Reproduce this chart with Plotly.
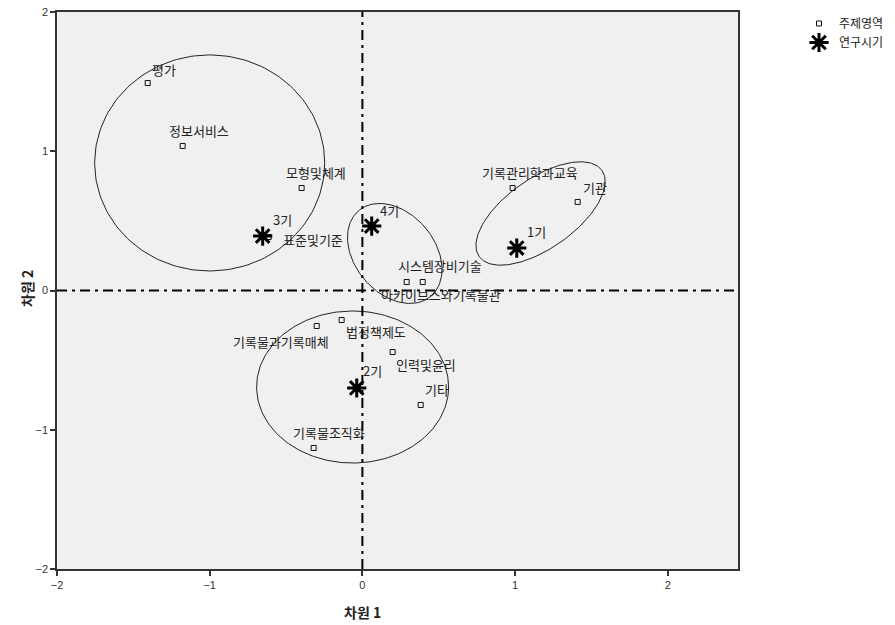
import numpy as np
import plotly.graph_objects as go

# ---- data ----
topic_names = ["평가", "정보서비스", "모형및체계", "표준및기준", "기록관리학과교육", "기관",
               "시스템장비기술", "아카이브스와기록물관", "기록물과기록매체", "법정책제도",
               "인력및윤리", "기타", "기록물조직화"]
topic_x = [-1.406, -1.177, -0.398, -0.614, 0.984, 1.410, 0.395, 0.290, -0.299, -0.136, 0.198, 0.382, -0.319]
topic_y = [1.490, 1.038, 0.736, 0.384, 0.736, 0.636, 0.061, 0.061, -0.255, -0.212, -0.442, -0.822, -1.131]

period_names = ["1기", "2기", "3기", "4기"]
period_x = [1.011, -0.037, -0.653, 0.061]
period_y = [0.305, -0.700, 0.391, 0.463]

x_ticks = [-2, -1, 0, 1, 2]
y_ticks = [-2, -1, 0, 1, 2]

# ---- layout / style ----
W, H = 895, 625
ML, MR, MT, MB = 57, 157, 12, 56
XR = [-2, 2.46]
YR = [-2, 2]
pxx = (W - ML - MR) / (XR[1] - XR[0])
pxy = (H - MT - MB) / (YR[1] - YR[0])

# label offsets in screen pixels (dx right, dy up)
topic_off = [(16, 14), (16, 15), (14, 16), (44, -2), (17, 16), (17, 14),
             (17, 17), (34, -12), (-36, -15), (34, -11), (33, -12), (16, 15), (15, 15)]
period_off = [(20, 17), (16, 17), (20, 17), (18, 16)]

# ellipse groups: centre (data), semi-axes (screen px), angle (deg)
ellipses = [((-1.0, 0.916), 115, 108, 0),
            ((0.212, 0.266), 56, 40, -50),
            ((1.167, 0.553), 75, 35, 35),
            ((-0.064, -0.693), 96, 76, 0)]

LABEL_FONT = dict(family="Noto Sans CJK KR", size=13, color="#222")

fig = go.Figure()

t = np.linspace(0, 2 * np.pi, 200)
for (cx, cy), a, b, ang in ellipses:
    th = np.deg2rad(ang)
    sx = a * np.cos(t) * np.cos(th) - b * np.sin(t) * np.sin(th)
    sy = a * np.cos(t) * np.sin(th) + b * np.sin(t) * np.cos(th)
    fig.add_trace(go.Scatter(x=cx + sx / pxx, y=cy + sy / pxy, mode="lines",
                             line=dict(color="#222", width=1), showlegend=False,
                             hoverinfo="skip"))

fig.add_trace(go.Scatter(x=topic_x, y=topic_y, mode="markers", name="주제영역",
                         marker=dict(symbol="square-open", size=5, color="#111",
                                     line=dict(width=1, color="#111"))))
fig.add_trace(go.Scatter(x=period_x, y=period_y, mode="markers", name="연구시기",
                         marker=dict(symbol="asterisk-open", size=16, color="#000",
                                     line=dict(width=3, color="#000"))))
fig.add_trace(go.Scatter(x=period_x, y=period_y, mode="markers", showlegend=False,
                         marker=dict(symbol="circle", size=8, color="#000"),
                         hoverinfo="skip"))

annotations = []
for name, x, y, (dx, dy) in zip(topic_names, topic_x, topic_y, topic_off):
    annotations.append(dict(x=x, y=y, text=name, showarrow=False, xshift=dx, yshift=dy,
                            font=LABEL_FONT))
for name, x, y, (dx, dy) in zip(period_names, period_x, period_y, period_off):
    annotations.append(dict(x=x, y=y, text=name, showarrow=False, xshift=dx, yshift=dy,
                            font=LABEL_FONT))

annotations.append(dict(xref="paper", yref="paper", x=(362 - ML) / (W - ML - MR),
                        y=-(612 - (H - MB)) / (H - MT - MB), text="<b>차원 1</b>",
                        showarrow=False, yanchor="middle",
                        font=dict(family="Noto Sans CJK KR", size=14, color="#222")))
annotations.append(dict(xref="paper", yref="paper", x=(27 - ML) / (W - ML - MR),
                        y=((H - MB) - 289) / (H - MT - MB), text="<b>차원 2</b>",
                        showarrow=False, textangle=-90, xanchor="center", yanchor="middle",
                        font=dict(family="Noto Sans CJK KR", size=14, color="#222")))

dash = "10px,5px,3px,5px"
shapes = [dict(type="line", x0=0, x1=0, y0=YR[0], y1=YR[1], xref="x", yref="y",
               line=dict(color="#000", width=2, dash=dash), layer="above"),
          dict(type="line", x0=XR[0], x1=XR[1], y0=0, y1=0, xref="x", yref="y",
               line=dict(color="#000", width=2, dash=dash), layer="above")]

axis_common = dict(showgrid=False, zeroline=False, showline=True, mirror=True,
                   linecolor="#333", linewidth=1.5, ticks="outside", ticklen=5,
                   tickcolor="#333", tickwidth=1.5, automargin=False,
                   tickfont=dict(family="Liberation Sans", size=11, color="#333"))

fig.update_layout(
    width=W, height=H,
    margin=dict(l=ML, r=MR, t=MT, b=MB, autoexpand=False),
    paper_bgcolor="white", plot_bgcolor="#f0f0f0",
    xaxis=dict(range=XR, tickvals=x_ticks, **axis_common),
    yaxis=dict(range=YR, tickvals=y_ticks, **axis_common),
    showlegend=True,
    legend=dict(x=(799 - ML) / (W - ML - MR), y=((H - MB) - 9) / (H - MT - MB),
                xanchor="left", yanchor="top", bgcolor="rgba(0,0,0,0)",
                font=dict(family="Noto Sans CJK KR", size=12, color="#222"),
                tracegroupgap=0, itemwidth=30),
    annotations=annotations, shapes=shapes,
)

fig.write_html("out.html", config={"displayModeBar": False},
               post_script="document.body.style.margin='0';document.body.style.padding='0';")
